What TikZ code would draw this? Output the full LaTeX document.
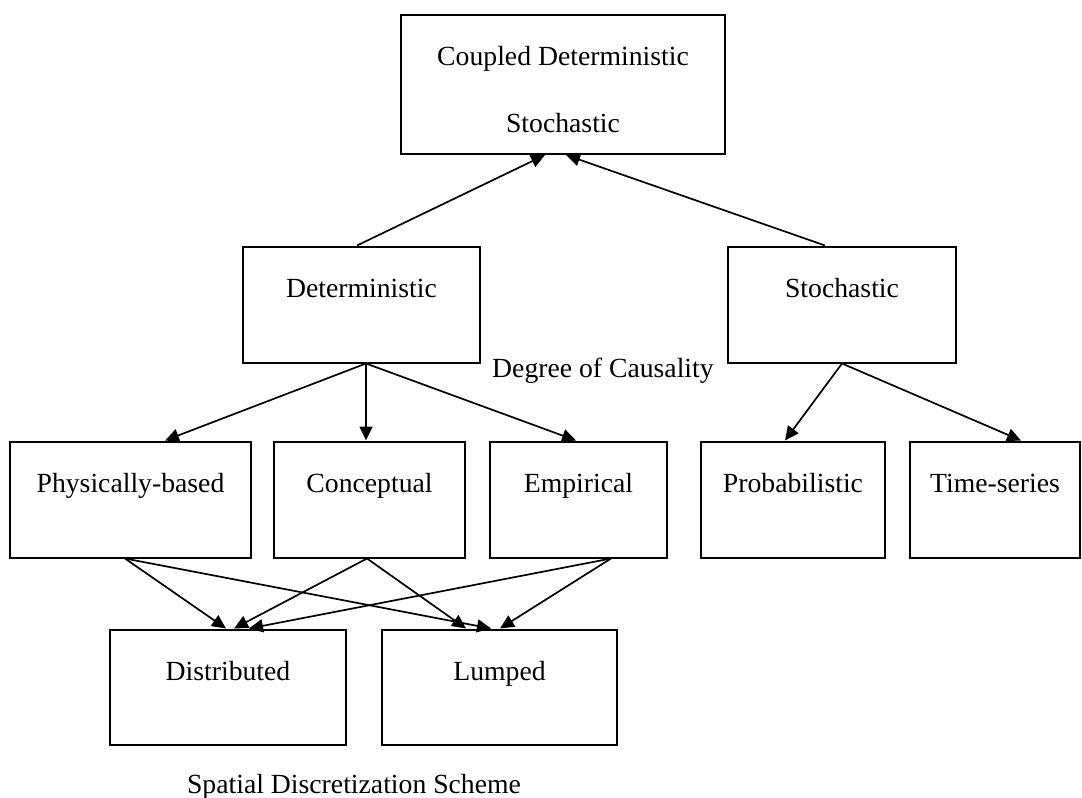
\documentclass[tikz,border=0pt]{standalone}
\usepackage{fontspec}
\setmainfont{Liberation Serif}
\usetikzlibrary{arrows.meta}
\begin{document}
\begin{tikzpicture}[x=1pt,y=-1pt,
  every node/.style={font=\fontsize{27.7}{33}\selectfont},
  box/.style={draw, line width=2pt, inner sep=0pt, anchor=base, text height=50.5pt},
  rowbox/.style={box, text depth=65.5pt},
  plain/.style={inner sep=0pt, anchor=base},
  arr/.style={line width=1.7pt, -{Triangle[length=14pt,width=13pt]}}]
\useasboundingbox (0,0) rectangle (1082,798);

% top level
\node[box, text depth=89pt, minimum width=324pt] (top) at (563,65) {Coupled Deterministic};
\node[plain] (topsub) at (563,132) {Stochastic};

% degree of causality
\node[rowbox, minimum width=237pt] (det) at (361.5,297) {Deterministic};
\node[rowbox, minimum width=228pt] (sto) at (842,297) {Stochastic};
\node[plain, anchor=base west] (causal) at (492,377) {Degree of Causality};

% model types
\node[rowbox, minimum width=241pt] (phys) at (130.5,492) {Physically-based};
\node[rowbox, minimum width=191pt] (conc) at (369.5,492) {Conceptual};
\node[rowbox, minimum width=177pt] (emp) at (578.5,492) {Empirical};
\node[rowbox, minimum width=184pt] (prob) at (793,492) {Probabilistic};
\node[rowbox, minimum width=170pt] (ts) at (995,492) {Time-series};

% spatial discretization
\node[box, text depth=64.5pt, minimum width=236pt] (dist) at (228,680) {Distributed};
\node[box, text depth=64.5pt, minimum width=235pt] (lump) at (499.5,680) {Lumped};
\node[plain] (spatial) at (354,793) {Spatial Discretization Scheme};

% connectors
\draw[arr] ([xshift=-4.5pt]det.north) -- ([xshift=-18pt]top.south);
\draw[arr] ([xshift=-17pt]sto.north) -- ([xshift=3pt]top.south);

\draw[arr] ([xshift=4.5pt]det.south) -- ([xshift=34.5pt]phys.north);
\draw[arr] ([xshift=4.5pt]det.south) -- ([xshift=-3.5pt]conc.north);
\draw[arr] ([xshift=4.5pt]det.south) -- ([xshift=-2.5pt]emp.north);

\draw[arr] (sto.south) -- ([xshift=-8pt]prob.north);
\draw[arr] (sto.south) -- ([xshift=26pt]ts.north);

\draw[arr] ([xshift=-5.5pt]phys.south) -- ([xshift=-2pt]dist.north);
\draw[arr] ([xshift=-5.5pt]phys.south) -- ([xshift=-8.5pt]lump.north);
\draw[arr] ([xshift=-2.5pt]conc.south) -- ([xshift=6pt]dist.north);
\draw[arr] ([xshift=-2.5pt]conc.south) -- ([xshift=-33.5pt]lump.north);
\draw[arr] ([xshift=32.5pt]emp.south) -- ([xshift=21pt]dist.north);
\draw[arr] ([xshift=32.5pt]emp.south) -- ([xshift=0.5pt]lump.north);
\end{tikzpicture}
\end{document}
